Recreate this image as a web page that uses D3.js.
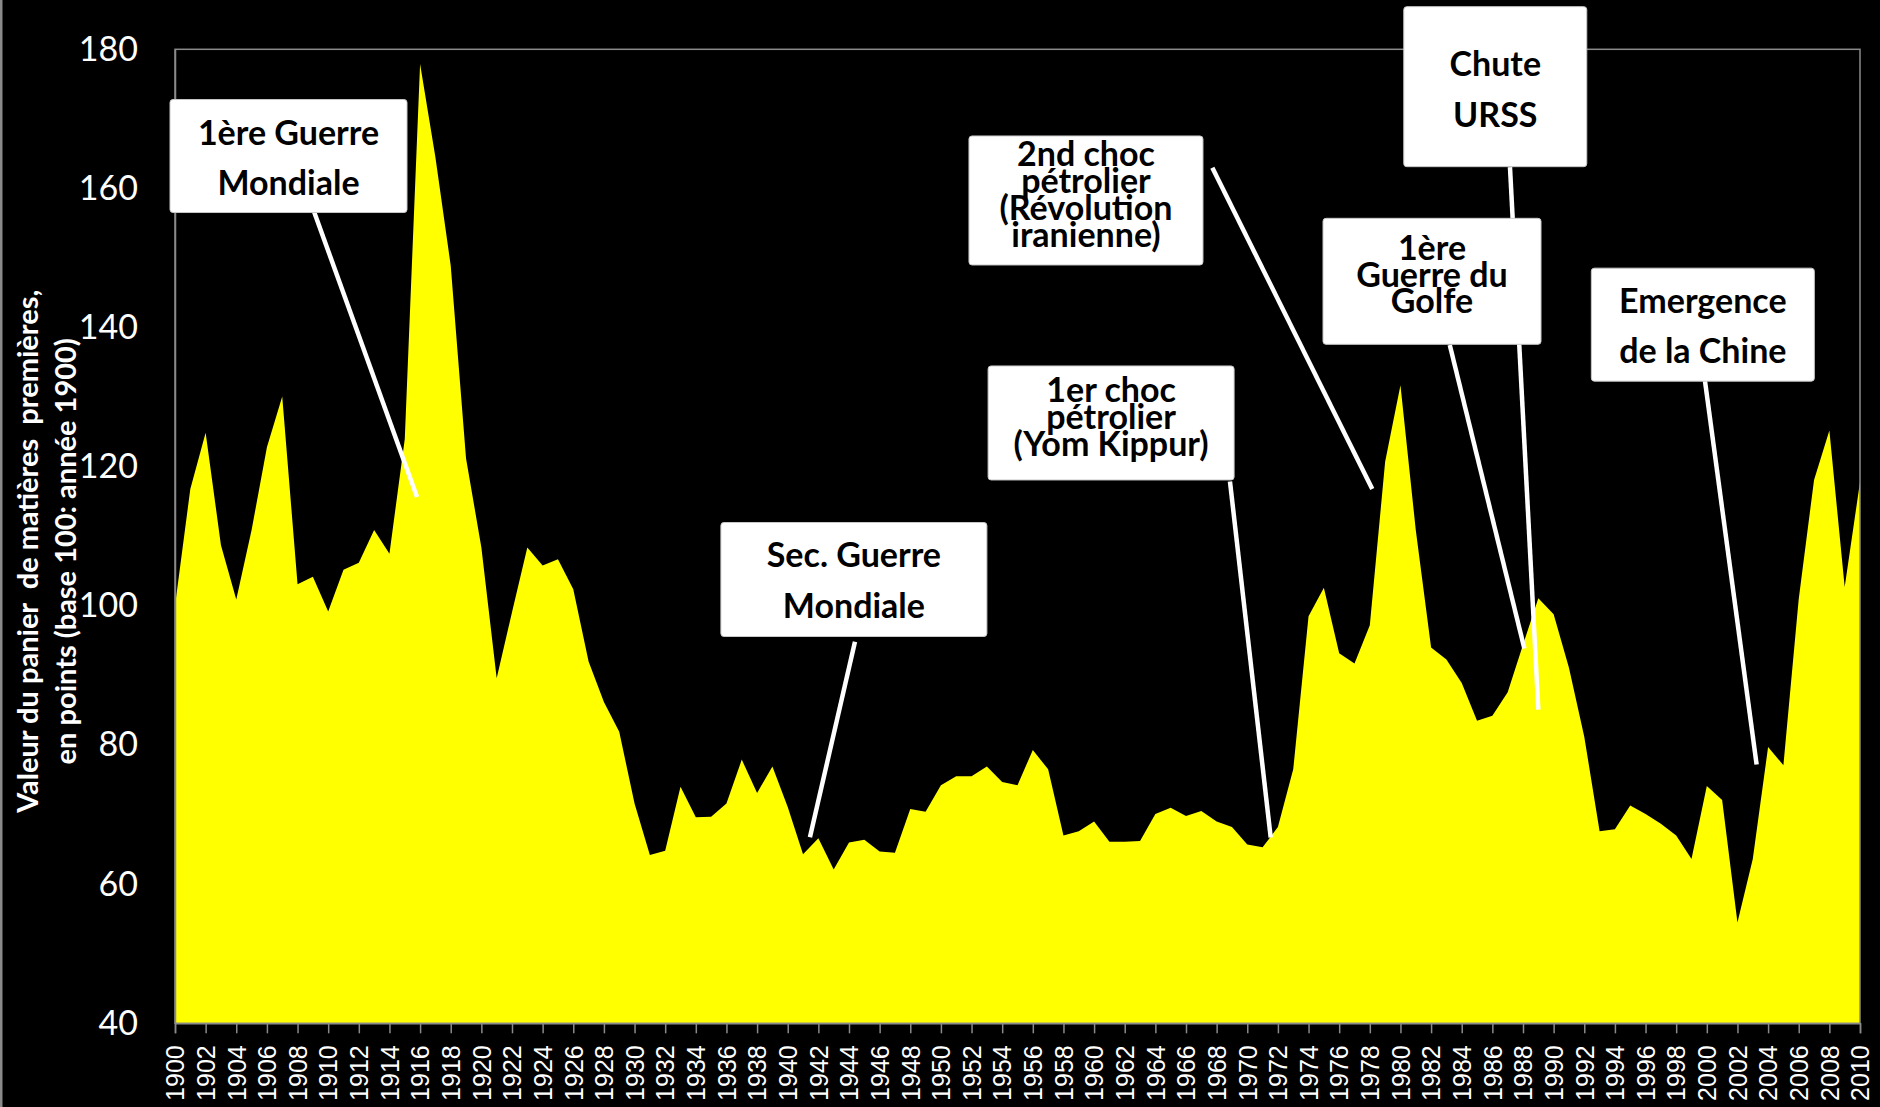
<!DOCTYPE html>
<html lang="fr">
<head>
<meta charset="utf-8">
<title>Valeur du panier de matières premières 1900–2010</title>
<script src="https://cdn.jsdelivr.net/npm/d3@7/dist/d3.min.js"></script>
<style>
  html, body { margin: 0; padding: 0; background: #000; }
  svg { display: block; }
  text { font-family: Lato, "Open Sans", sans-serif; }
</style>
</head>
<body>
<script>
// ---- data -------------------------------------------------------------
const years = d3.range(1900, 2011);

// index value of the commodity basket (base 100 = 1900)
const basketValues = [
  100.0, 116.8, 124.9, 108.7, 100.9, 110.9, 122.8, 130.1, 103.1, 104.2, // 1900-1909
   99.2, 105.2, 106.2, 110.9, 107.5, 124.0, 177.9, 164.5, 148.9, 121.2, // 1910-1919
  108.4,  89.6,  99.1, 108.4, 105.8, 106.7, 102.4,  92.0,  86.2,  81.9, // 1920-1929
   71.6,  64.2,  64.8,  74.0,  69.6,  69.7,  71.6,  77.9,  73.1,  76.9, // 1930-1939
   71.1,  64.3,  66.6,  62.1,  66.0,  66.4,  64.7,  64.5,  70.8,  70.4, // 1940-1949
   74.2,  75.5,  75.5,  76.9,  74.7,  74.2,  79.3,  76.5,  67.0,  67.6, // 1950-1959
   69.0,  66.1,  66.1,  66.2,  70.1,  71.0,  69.8,  70.5,  69.0,  68.2, // 1960-1969
   65.7,  65.3,  68.2,  76.5,  98.5, 102.6,  93.2,  91.7,  97.2, 120.7, // 1970-1979
  131.7, 110.9,  94.0,  92.3,  88.9,  83.5,  84.2,  87.6,  94.4, 101.1, // 1980-1989
   98.8,  91.1,  81.2,  67.6,  67.9,  71.3,  70.1,  68.7,  67.0,  63.6, // 1990-1999
   74.1,  72.1,  54.5,  63.6,  79.7,  77.1, 101.0, 118.1, 125.2, 102.7, // 2000-2009
  117.8                                                                 // 2010
];

const yTicks = [40, 60, 80, 100, 120, 140, 160, 180];
const xTicks = d3.range(1900, 2011, 2);

const yTitleLines = [
  "Valeur du panier  de matières  premières,",
  "en points (base 100: année 1900)"
];

// historical events: label lines, box centre and pointer (year, value)
const events = [
  { lines: ["1ère Guerre", "Mondiale"],                             box: [1907.41, 164.66], from: [1907.90, 163.85], to: [1915.80, 115.65] },
  { lines: ["Sec. Guerre", "Mondiale"],                             box: [1944.32, 103.79], from: [1944.39,  94.85], to: [1941.45,  66.74] },
  { lines: ["1er choc", "pétrolier", "(Yom Kippur)"],               box: [1961.11, 126.29], from: [1968.87, 117.88], to: [1971.53,  66.71] },
  { lines: ["2nd choc", "pétrolier", "(Révolution", "iranienne)"],  box: [1959.47, 158.27], from: [1967.72, 162.98], to: [1978.16, 116.80] },
  { lines: ["Chute", "URSS"],                                       box: [1986.19, 174.63], from: [1987.15, 163.08], to: [1989.00,  85.08] },
  { lines: ["1ère", "Guerre du", "Golfe"],                          box: [1982.06, 146.65], from: [1983.22, 137.50], to: [1988.09,  93.87] },
  { lines: ["Emergence", "de la Chine"],                            box: [1999.74, 140.42], from: [1999.88, 132.33], to: [2003.25,  77.20] }
];

// box size and text spacing of each callout (pixels)
const calloutLayout = [
  { w: 237, h: 113, first: -11,  step: 50 },
  { w: 266, h: 114, first: -12.5, step: 51 },
  { w: 246, h: 114, first: -20.5, step: 27 },
  { w: 234, h: 129, first: -34,  step: 26.7 },
  { w: 183, h: 160, first: -10.5, step: 50.5 },
  { w: 218, h: 126, first: -21.5, step: 26.7 },
  { w: 223, h: 113, first: -11.5, step: 50 }
];

// ---- layout -----------------------------------------------------------
const W = 1880, H = 1107;
const margin = { top: 49.3, right: 20, bottom: 83.7, left: 175 };
const AXIS_GREY = "#8a8a8a";

const svg = d3.select("body").append("svg")
  .attr("width", W).attr("height", H);

svg.append("rect").attr("width", W).attr("height", H).attr("fill", "#000");
svg.append("rect").attr("x", 0).attr("y", 0).attr("width", 2.5).attr("height", H).attr("fill", AXIS_GREY);

const x = d3.scaleLinear().domain([1900, 2010]).range([margin.left, W - margin.right]);
const y = d3.scaleLinear().domain([40, 180]).range([H - margin.bottom, margin.top]);

const series = years.map((yr, i) => ({ year: yr, value: basketValues[i] }));

// ---- filled area --------------------------------------------------------
const area = d3.area()
  .x(d => x(d.year))
  .y0(y(40))
  .y1(d => y(d.value));

svg.append("path")
  .datum(series)
  .attr("d", area)
  .attr("fill", "#ffff00");

// ---- plot frame ------------------------------------------------------------
svg.append("rect")
  .attr("x", x(1900)).attr("y", y(180))
  .attr("width", x(2010) - x(1900)).attr("height", y(40) - y(180))
  .attr("fill", "none").attr("stroke", AXIS_GREY).attr("stroke-width", 1.5);

// ---- axes -------------------------------------------------------------------
const yAxis = svg.append("g")
  .attr("transform", `translate(${x(1900)},0)`)
  .call(d3.axisLeft(y).tickValues(yTicks).tickSize(0).tickPadding(37).tickFormat(d3.format("d")));
yAxis.select(".domain").attr("stroke", AXIS_GREY).attr("stroke-width", 1.5);
yAxis.selectAll("text")
  .attr("fill", "#fff")
  .style("font-family", "Lato, sans-serif")
  .style("font-size", "34px");

const xAxis = svg.append("g")
  .attr("transform", `translate(0,${y(40)})`)
  .call(d3.axisBottom(x).tickValues(xTicks).tickSize(10).tickFormat(d3.format("d")));
xAxis.select(".domain").attr("stroke", AXIS_GREY).attr("stroke-width", 1.5);
xAxis.selectAll(".tick line").attr("stroke", AXIS_GREY).attr("stroke-width", 1.5);
xAxis.selectAll("text")
  .attr("fill", "#fff")
  .style("font-family", "'Liberation Sans', Arial, sans-serif")
  .style("font-size", "25px")
  .attr("text-anchor", "end")
  .attr("transform", "rotate(-90)")
  .attr("x", -22)
  .attr("y", 0)
  .attr("dy", "0.35em");

// ---- y-axis title -------------------------------------------------------------
const yTitle = svg.append("text")
  .attr("transform", `translate(0,${(y(40) + y(180)) / 2 + 15}) rotate(-90)`)
  .attr("text-anchor", "middle")
  .attr("fill", "#fff")
  .style("font-weight", "700")
  .style("font-size", "29px")
  .style("white-space", "pre");
yTitle.selectAll("tspan")
  .data(yTitleLines)
  .join("tspan")
  .attr("x", 0)
  .attr("y", (d, i) => 38 + i * 38)
  .text(d => d);

// ---- callouts -----------------------------------------------------------------
const leaders = svg.append("g");
leaders.selectAll("line")
  .data(events)
  .join("line")
  .attr("x1", d => x(d.from[0])).attr("y1", d => y(d.from[1]))
  .attr("x2", d => x(d.to[0])).attr("y2", d => y(d.to[1]))
  .attr("stroke", "#fff")
  .attr("stroke-width", 4.5);

const boxes = svg.append("g").selectAll("g")
  .data(events)
  .join("g")
  .attr("transform", d => `translate(${x(d.box[0])},${y(d.box[1])})`);

boxes.append("rect")
  .attr("x", (d, i) => -calloutLayout[i].w / 2)
  .attr("y", (d, i) => -calloutLayout[i].h / 2)
  .attr("width", (d, i) => calloutLayout[i].w)
  .attr("height", (d, i) => calloutLayout[i].h)
  .attr("rx", 3)
  .attr("fill", "#fff")
  .attr("stroke", "#c8c8c8")
  .attr("stroke-width", 1);

boxes.each(function (d, i) {
  const L = calloutLayout[i];
  d3.select(this).append("text")
    .attr("text-anchor", "middle")
    .attr("fill", "#000")
    .style("font-weight", "700")
    .style("font-size", "34px")
    .selectAll("tspan")
    .data(d.lines)
    .join("tspan")
    .attr("x", 0)
    .attr("y", (t, j) => L.first + j * L.step)
    .text(t => t);
});
</script>
</body>
</html>
